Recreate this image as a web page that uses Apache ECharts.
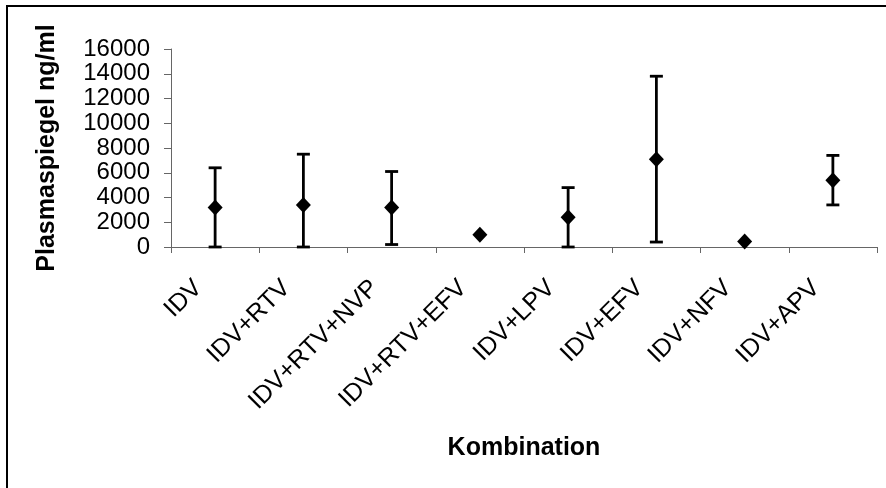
<!DOCTYPE html>
<html>
<head>
<meta charset="utf-8">
<script src="https://cdn.jsdelivr.net/npm/echarts@6/dist/echarts.min.js"></script>
<style>
html,body{margin:0;padding:0;background:#fff;}
#chart{width:886px;height:488px;}
</style>
</head>
<body>
<div id="chart"></div>
<script>
const categories = ['IDV','IDV+RTV','IDV+RTV+NVP','IDV+RTV+EFV','IDV+LPV','IDV+EFV','IDV+NFV','IDV+APV'];
const means = [3200, 3400, 3200, 1000, 2400, 7100, 450, 5400];
const lows  = [0, 0, 200, null, 0, 400, null, 3400];
const highs = [6400, 7500, 6100, null, 4800, 13800, null, 7400];
const yTicks = [0, 2000, 4000, 6000, 8000, 10000, 12000, 14000, 16000];

const errData = categories.map((c, i) => [i, lows[i], highs[i]]).filter(d => d[1] !== null);

const chart = echarts.init(document.getElementById('chart'), null, {renderer: 'canvas'});
const font = '"Liberation Sans", Arial, sans-serif';

chart.setOption({
  animation: false,
  backgroundColor: '#ffffff',
  grid: {left: 171, right: 9, top: 49, bottom: 241, containLabel: false},
  xAxis: {
    type: 'category',
    data: categories,
    boundaryGap: true,
    name: 'Kombination',
    nameLocation: 'middle',
    nameGap: 189,
    nameTextStyle: {fontFamily: font, fontSize: 25, fontWeight: 'bold', color: '#000'},
    axisLine: {show: true, lineStyle: {color: '#666', width: 1}},
    axisTick: {show: true, length: 6, alignWithLabel: false, lineStyle: {color: '#666'}},
    axisLabel: {
      interval: 0, rotate: 45, margin: 20,
      fontFamily: font, fontSize: 25, color: '#000',
      padding: [0, 24, 0, 0], hideOverlap: false
    },
    splitLine: {show: false}
  },
  yAxis: {
    type: 'value',
    min: yTicks[0],
    max: yTicks[yTicks.length - 1],
    interval: yTicks[1] - yTicks[0],
    name: 'Plasmaspiegel ng/ml',
    nameLocation: 'middle',
    nameRotate: 90,
    nameGap: 111,
    nameTextStyle: {fontFamily: font, fontSize: 25, fontWeight: 'bold', color: '#000'},
    axisLine: {show: true, lineStyle: {color: '#666', width: 1}},
    axisTick: {show: true, length: 7, inside: false, lineStyle: {color: '#666'}},
    axisLabel: {
      margin: 21, fontFamily: font, fontSize: 24, color: '#000',
      showMinLabel: true, showMaxLabel: true, hideOverlap: false,
      formatter: function (v) { return String(v); }
    },
    splitLine: {show: false}
  },
  graphic: [
    {type: 'line', shape: {x1: 6, y1: 6, x2: 886, y2: 6}, style: {stroke: '#000', lineWidth: 2}, silent: true},
    {type: 'line', shape: {x1: 7, y1: 6, x2: 7, y2: 488}, style: {stroke: '#000', lineWidth: 2}, silent: true}
  ],
  series: [
    {
      type: 'custom',
      data: errData,
      z: 2,
      renderItem: function (params, api) {
        const x = api.value(0);
        const lo = api.coord([x, api.value(1)]);
        const hi = api.coord([x, api.value(2)]);
        const hw = 6.5;
        const st = {stroke: '#000', lineWidth: 2.8};
        return {
          type: 'group',
          children: [
            {type: 'line', shape: {x1: lo[0], y1: lo[1], x2: hi[0], y2: hi[1]}, style: st},
            {type: 'line', shape: {x1: hi[0] - hw, y1: hi[1], x2: hi[0] + hw, y2: hi[1]}, style: st},
            {type: 'line', shape: {x1: lo[0] - hw, y1: lo[1], x2: lo[0] + hw, y2: lo[1]}, style: st}
          ]
        };
      }
    },
    {
      type: 'scatter',
      data: means,
      symbol: 'diamond',
      symbolSize: [15, 16],
      itemStyle: {color: '#000', opacity: 1},
      z: 3
    }
  ]
});
</script>
</body>
</html>
